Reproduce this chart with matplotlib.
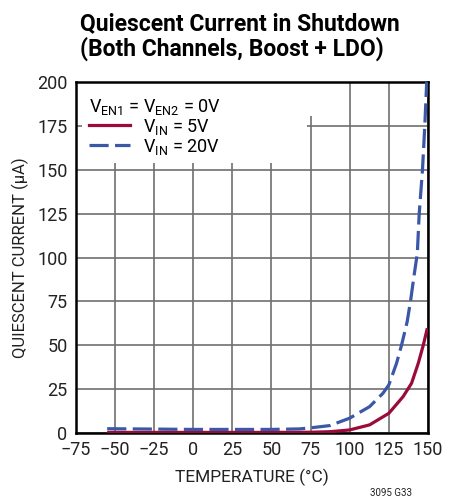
import matplotlib
matplotlib.use("Agg")
import matplotlib.pyplot as plt
from matplotlib.patches import Rectangle
from matplotlib.lines import Line2D

plt.rcParams['font.family'] = ['Roboto', 'DejaVu Sans']
plt.rcParams['mathtext.fontset'] = 'custom'
plt.rcParams['mathtext.rm'] = 'Roboto'

# Temperature (°C) and quiescent current (µA) readings
temp_5v = [-55, -25, 0, 25, 50, 75, 87.4, 100, 112.8, 125.1, 134.2, 139.6,
           143.9, 147.1, 149.7]
iq_5v = [0.3, 0.3, 0.3, 0.3, 0.3, 0.4, 0.7, 1.7, 4.6, 11.2, 20.7, 28.3,
         39.7, 50, 59.7]

temp_20v = [-55, -25, 0, 25, 50, 68, 75, 87.4, 100, 112.8, 121.3, 125.1, 130,
            133.2, 136.8, 139, 141.1, 143.3, 144.5, 146.6, 148.1, 149.3]
iq_20v = [2.4, 2.2, 2.0, 2.0, 2.0, 2.3, 2.9, 4.2, 8.4, 15, 22.6, 27.4, 39.7,
          50, 63.4, 75.4, 89, 102.4, 125, 150, 175.5, 200]

x_ticks = [-75, -50, -25, 0, 25, 50, 75, 100, 125, 150]
x_labels = ['\u221275', '\u221250', '\u221225', '0', '25', '50', '75', '100', '125', '150']
y_ticks = [0, 25, 50, 75, 100, 125, 150, 175, 200]

red = '#9b0a3a'
blue = '#3a57a8'
dash = (6.0, 2.0)

fig = plt.figure(figsize=(4.6, 5.04), dpi=100)
ax = fig.add_axes([0.165, 0.141, 0.765, 0.696])

ax.set_xlim(-75, 150)
ax.set_ylim(0, 200)
ax.set_xticks(x_ticks)
ax.set_xticklabels(x_labels)
ax.set_yticks(y_ticks)
ax.tick_params(length=0, labelsize=13, colors='#222222')
ax.tick_params(axis='x', pad=6)
ax.tick_params(axis='y', pad=6)
ax.set_axisbelow(True)
ax.grid(True, color='#707070', linewidth=1.2)
for s in ax.spines.values():
    s.set_linewidth(1.8)
    s.set_color('black')

# white area behind the legend
ax.add_patch(Rectangle((-71, 153.8), 143.5, 50, facecolor='white', edgecolor='none', zorder=1))
ax.add_patch(Rectangle((-71, 180.5), 166, 25, facecolor='white', edgecolor='none', zorder=1))

ax.plot(temp_5v, iq_5v, color=red, linewidth=2.3, zorder=3,
        solid_capstyle='butt', solid_joinstyle='round')
ax.plot(temp_20v, iq_20v, color=blue, linewidth=2.3, zorder=3,
        dashes=dash, dash_capstyle='butt', dash_joinstyle='round')

ax.set_xlabel('TEMPERATURE (°C)', fontsize=12.5, color='#222222', labelpad=7)
ax.set_ylabel('QUIESCENT CURRENT (µA)', fontsize=12, color='#222222', labelpad=6)

handles = [Line2D([], [], color=red, linewidth=2.3),
           Line2D([], [], color=blue, linewidth=2.3, dashes=dash)]
leg = ax.legend(handles, [r'$\mathregular{V_{IN}}$ = 5V', r'$\mathregular{V_{IN}}$ = 20V'],
                title=r'$\mathregular{V_{EN1}}$ = $\mathregular{V_{EN2}}$ = 0V',
                loc='upper left', bbox_to_anchor=(0.0, 0.995), frameon=False,
                fontsize=13, title_fontsize=13, handlelength=2.3,
                handletextpad=0.7, labelspacing=0.0, borderaxespad=0.3)
leg._legend_box.align = 'left'
leg.set_zorder(4)

fig.text(0.175, 0.975, 'Quiescent Current in Shutdown\n(Both Channels, Boost + LDO)',
         fontsize=16.5, fontweight='bold', ha='left', va='top', linespacing=1.05)
fig.text(0.895, 0.012, '3095 G33', fontsize=7, ha='right', va='bottom', color='#222222')

fig.savefig('out.png', dpi=100)
